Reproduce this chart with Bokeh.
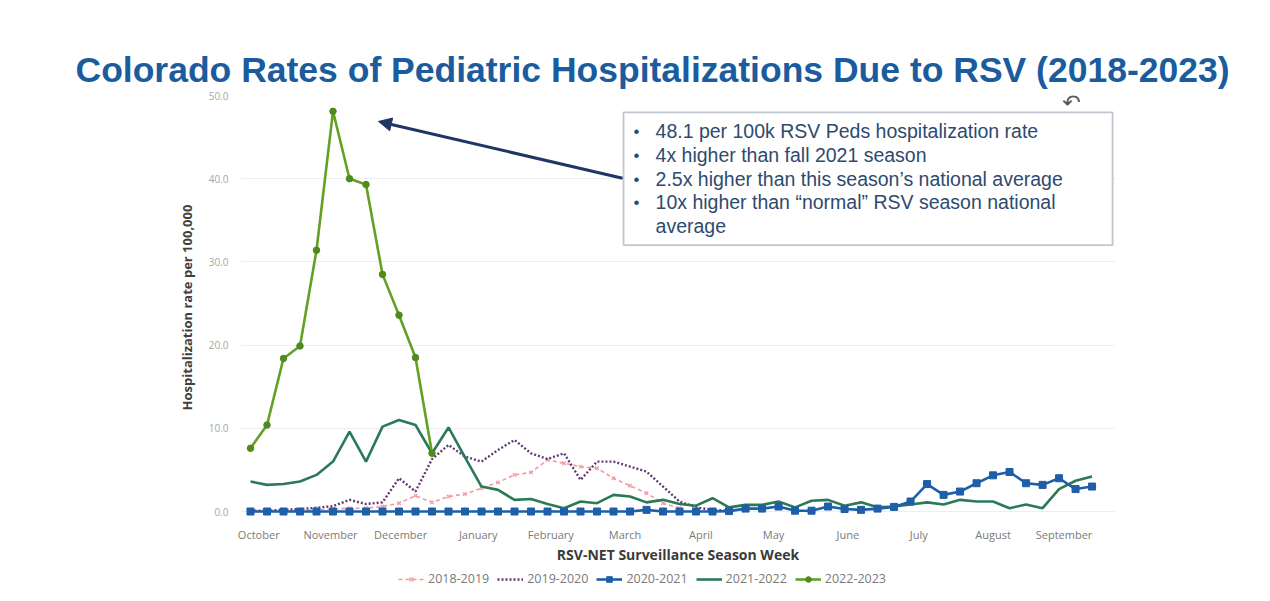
from bokeh.plotting import figure
from bokeh.layouts import column
from bokeh.models import (FixedTicker, PrintfTickFormatter, Legend, LegendItem, Label,
                          BoxAnnotation, Arrow, NormalHead, Title)
from bokeh.embed import file_html
from bokeh.resources import INLINE

# ---------------- data ----------------
season_2018_19 = [0.0, 0.0, 0.1, 0.1, 0.2, 0.3, 0.4, 0.4, 0.6, 1.0, 1.9, 1.1, 1.8, 2.1,
                  2.8, 3.5, 4.4, 4.7, 6.2, 5.8, 5.4, 5.2, 4.0, 3.1, 2.2, 1.0, 0.4]
season_2019_20 = [0.1, 0.1, 0.2, 0.3, 0.45, 0.65, 1.4, 0.9, 1.1, 4.0, 2.4, 6.3, 8.0, 6.6,
                  6.0, 7.4, 8.6, 7.0, 6.3, 7.0, 3.8, 6.0, 6.0, 5.4, 4.8, 3.0, 1.2, 0.5, 0.2, 0.1]
season_2020_21 = [0.0] * 24 + [0.2, 0.0, 0.0, 0.0, 0.0, 0.05, 0.35, 0.35, 0.6, 0.1, 0.1,
                               0.6, 0.3, 0.2, 0.35, 0.55, 1.2, 3.3, 2.0, 2.4, 3.4, 4.35,
                               4.75, 3.4, 3.2, 4.0, 2.7, 3.0]
season_2021_22 = [3.6, 3.2, 3.3, 3.6, 4.4, 6.0, 9.6, 6.0, 10.2, 11.0, 10.4, 7.0, 10.1, 6.5,
                  3.0, 2.6, 1.4, 1.5, 0.9, 0.4, 1.2, 1.0, 2.0, 1.8, 1.1, 1.4, 0.9, 0.7,
                  1.6, 0.5, 0.8, 0.8, 1.2, 0.5, 1.3, 1.4, 0.7, 1.1, 0.5, 0.6, 0.85, 1.1,
                  0.85, 1.4, 1.2, 1.2, 0.4, 0.85, 0.4, 2.7, 3.7, 4.2]
season_2022_23 = [7.6, 10.4, 18.4, 19.9, 31.4, 48.1, 40.0, 39.3, 28.5, 23.6, 18.5, 7.0]

season_names = ["2018-2019", "2019-2020", "2020-2021", "2021-2022", "2022-2023"]
month_labels = ["October", "November", "December", "January", "February", "March",
                "April", "May", "June", "July", "August", "September"]
month_weeks = [0.5, 4.85, 9.1, 13.8, 18.2, 22.7, 27.3, 31.7, 36.2, 40.5, 45.0, 49.3]
y_ticks = [0, 10, 20, 30, 40, 50]

bullets = ["48.1 per 100k RSV Peds hospitalization rate",
           "4x higher than fall 2021 season",
           "2.5x higher than this season\u2019s national average",
           "10x higher than \u201cnormal\u201d RSV season national",
           "average"]
bullet_marks = [True, True, True, True, False]

title_text = "Colorado Rates of Pediatric Hospitalizations Due to RSV (2018-2023)"

# ---------------- main figure ----------------
W, H = 1254, 566
FL, FT, FR, FB = 240, 95, 1115, 520   # frame edges on the page
p = figure(width=W, height=H, output_backend="svg", toolbar_location=None,
           x_range=(-0.606, 52.42), y_range=(-0.96, 50.0),
           min_border_left=FL, min_border_right=W - FR, min_border_top=FT,
           min_border_bottom=H - FB)
p.outline_line_color = None
p.background_fill_color = "white"
p.border_fill_color = "white"

p.title = Title(text=title_text, text_font="Liberation Sans", text_font_style="bold",
                text_font_size="35.5px", text_color="#1a5c9e", align="left",
                offset=75 - FL, standoff=12)

# axes
p.yaxis.ticker = FixedTicker(ticks=y_ticks)
p.yaxis.formatter = PrintfTickFormatter(format="%.1f")
p.yaxis.axis_line_color = None
p.yaxis.major_tick_line_color = None
p.yaxis.minor_tick_line_color = None
p.yaxis.major_label_text_color = "#a6a6a6"
p.yaxis.major_label_text_font = "Open Sans"
p.yaxis.major_label_text_font_size = "10px"
p.yaxis.major_label_standoff = 6
p.yaxis.axis_label = "Hospitalization rate per 100,000"
p.yaxis.axis_label_text_font = "Open Sans"
p.yaxis.axis_label_text_font_style = "bold"
p.yaxis.axis_label_text_font_size = "13px"
p.yaxis.axis_label_text_color = "#404040"
p.yaxis.axis_label_standoff = 10

p.xaxis.ticker = FixedTicker(ticks=month_weeks)
p.xaxis.major_label_overrides = {w: m for w, m in zip(month_weeks, month_labels)}
p.xaxis.axis_line_color = None
p.xaxis.major_tick_line_color = None
p.xaxis.minor_tick_line_color = None
p.xaxis.major_label_text_color = "#7a7a7a"
p.xaxis.major_label_text_font = "Open Sans"
p.xaxis.major_label_text_font_size = "11px"
p.xaxis.major_label_standoff = 1
p.xaxis.axis_label = "RSV-NET Surveillance Season Week"
p.xaxis.axis_label_text_font = "Open Sans"
p.xaxis.axis_label_text_font_style = "bold"
p.xaxis.axis_label_text_font_size = "14px"
p.xaxis.axis_label_text_color = "#3a3a3a"
p.xaxis.axis_label_standoff = 0

p.xgrid.grid_line_color = None
p.ygrid.grid_line_color = "#eeeeee"
p.ygrid.grid_line_width = 1

# series styles
c_pink, c_purple, c_blue, c_teal, c_green = "#f29aa2", "#633a74", "#1f5ea8", "#2b7a57", "#62a123"
c_green_mk = "#4f8a1c"


def draw_series(fig, xs, ys):
    (x18, x19, x20, x21, x22), (y18, y19, y20, y21, y22) = xs, ys
    r = {}
    r["a"] = [fig.line(x18, y18, line_color=c_pink, line_width=1.6, line_dash="4 3"),
              fig.scatter(x18, y18, marker="x", size=5, line_color=c_pink, line_width=1.2)]
    r["b"] = [fig.line(x19, y19, line_color=c_purple, line_width=2.4, line_dash="2 2")]
    r["d"] = [fig.line(x21, y21, line_color=c_teal, line_width=2.6)]
    r["c"] = [fig.line(x20, y20, line_color=c_blue, line_width=2.6),
              fig.scatter(x20, y20, marker="square", size=7, fill_color=c_blue, line_color=c_blue)]
    r["e"] = [fig.line(x22, y22, line_color=c_green, line_width=2.6),
              fig.scatter(x22, y22, marker="circle", size=6.5, fill_color=c_green_mk,
                          line_color=c_green_mk)]
    return [r["a"], r["b"], r["c"], r["d"], r["e"]]


series = [season_2018_19, season_2019_20, season_2020_21, season_2021_22, season_2022_23]
weeks = [list(range(len(s))) for s in series]
draw_series(p, weeks, series)

# ---- coordinate helpers for annotations (page px -> data) ----
def dx(px):
    return (px - 250) / 16.5

def dy(py):
    return (512 - py) / 8.34

# arrow
p.add_layout(Arrow(x_start=dx(622), y_start=dy(178), x_end=dx(378), y_end=dy(121),
                   line_color="#1f3565", line_width=3,
                   end=NormalHead(size=13, fill_color="#1f3565", line_color="#1f3565")))

# info box
p.add_layout(BoxAnnotation(left=dx(623), right=dx(1112), top=dy(112), bottom=dy(245),
                           fill_color="white", fill_alpha=1, line_color="#2f3f5f",
                           line_width=1.8))
line_y = [131, 155, 179, 202, 226]
for txt, mark, yy in zip(bullets, bullet_marks, line_y):
    if mark:
        p.add_layout(Label(x=dx(633), y=dy(yy), text="\u2022", text_font="Liberation Sans",
                           text_font_size="17px", text_color="#2e4a6e", text_baseline="middle"))
    p.add_layout(Label(x=dx(655), y=dy(yy), text=txt, text_font="Liberation Sans",
                       text_font_size="19.5px", text_color="#2e4a6e", text_baseline="middle"))

# small curved arrow icon
p.add_layout(Label(x=dx(1071), y=dy(102), text="\u21b6", text_font="DejaVu Sans",
                   text_font_size="22px", text_color="#555555", text_baseline="middle",
                   text_align="center"))

# ---------------- legend strip ----------------
LH = 601 - H
lg = figure(width=W, height=LH, output_backend="svg", toolbar_location=None,
            min_border=0, x_range=(0, 1), y_range=(0, 1))
lg.axis.visible = False
lg.grid.visible = False
lg.outline_line_color = None
# one off-range sample each so the legend glyphs have something to draw
off_x = [[-5.0] for _ in series]
off_y = [[-5.0] for _ in series]
leg_renderers = draw_series(lg, off_x, off_y)
legend = Legend(items=[LegendItem(label=n, renderers=rs)
                       for n, rs in zip(season_names, leg_renderers)],
                orientation="horizontal", location=(158, 14))
legend.label_text_font = "Open Sans"
legend.label_text_font_size = "12.5px"
legend.label_text_color = "#7a7a7a"
legend.glyph_width = 26
legend.glyph_height = 14
legend.spacing = 8
legend.label_standoff = 4
legend.label_height = 14
legend.background_fill_alpha = 0
legend.border_line_color = None
legend.padding = 2
legend.margin = 0
lg.add_layout(legend, "center")

open("out.html", "w").write(file_html(column(p, lg, spacing=0), INLINE))
